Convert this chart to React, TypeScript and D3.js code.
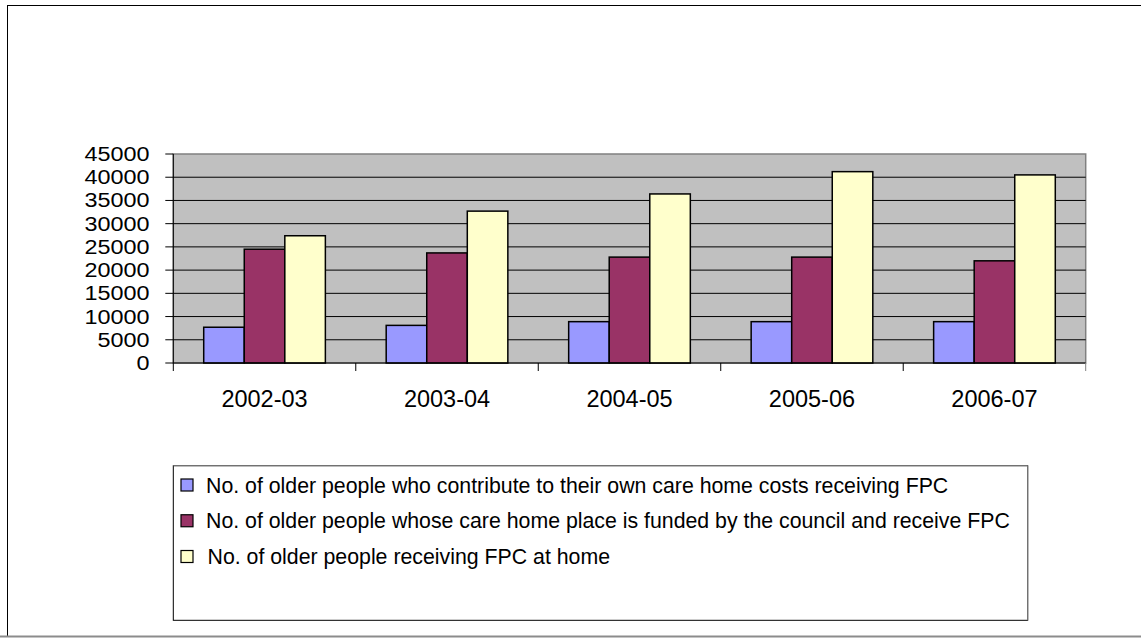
import React from "react";
import * as d3 from "d3";

const categories = ["2002-03", "2003-04", "2004-05", "2005-06", "2006-07"];
const seriesNames = [
  "No. of older people who contribute to their own care home costs receiving FPC",
  "No. of older people whose care home place is funded by the council and receive FPC",
  "No. of older people receiving FPC at home",
];
const selfFunded = [7700, 8100, 8900, 8900, 8900];
const councilFunded = [24500, 23700, 22800, 22800, 22000];
const atHome = [27400, 32700, 36400, 41200, 40500];
const yTicks = [0, 5000, 10000, 15000, 20000, 25000, 30000, 35000, 40000, 45000];
const colors = ["#9999FF", "#993366", "#FFFFCC"];

const W = 1141;
const H = 639;
const FONT = "'Liberation Sans', Arial, sans-serif";

export default function App() {
  const series = [selfFunded, councilFunded, atHome];
  const plot = { left: 173.3, right: 1085.7, top: 154, bottom: 363 };
  const x0 = d3
    .scaleBand<string>()
    .domain(categories)
    .range([plot.left, plot.right])
    .paddingInner(0)
    .paddingOuter(0);
  // Excel gap width 150%: 3 bars + 1.5 bar gap per category
  const barW = x0.bandwidth() / 4.5;
  const x1 = d3
    .scaleBand<number>()
    .domain([0, 1, 2])
    .range([0, barW * 3]);
  const y = d3.scaleLinear().domain([0, 45000]).range([plot.bottom, plot.top]);

  const legend = { left: 173.3, top: 465.7, right: 1027.7, bottom: 620.3 };
  const legendRowY = d3.scalePoint<number>().domain([0, 1, 2]).range([485, 556.5]);

  return (
    <svg
      width={W}
      height={H}
      style={{ position: "absolute", left: 0, top: 0, background: "#fff" }}
      fontFamily={FONT}
    >
      {/* outer frame */}
      <line x1={7} y1={5.5} x2={W} y2={5.5} stroke="#000" strokeWidth={1} />
      <line x1={7.5} y1={5} x2={7.5} y2={636} stroke="#000" strokeWidth={1} />
      <line x1={0} y1={636.5} x2={W} y2={636.5} stroke="#8c8c8c" strokeWidth={2} />

      {/* plot background */}
      <rect
        x={plot.left}
        y={plot.top}
        width={plot.right - plot.left}
        height={plot.bottom - plot.top}
        fill="#C0C0C0"
        stroke="#808080"
        strokeWidth={1.5}
      />
      {/* gridlines */}
      {yTicks
        .filter((t) => t > 0 && t < 45000)
        .map((t) => (
          <line
            key={"g" + t}
            x1={plot.left}
            x2={plot.right}
            y1={y(t)}
            y2={y(t)}
            stroke="#000"
            strokeWidth={1}
          />
        ))}

      {/* bars */}
      {categories.map((c, i) => {
        const start = (x0(c) as number) + (x0.bandwidth() - barW * 3) / 2;
        return (
          <g key={c}>
            {series.map((s, k) => (
              <rect
                key={k}
                x={start + (x1(k) as number)}
                y={y(s[i])}
                width={barW}
                height={y(0) - y(s[i])}
                fill={colors[k]}
                stroke="#000"
                strokeWidth={1.5}
              />
            ))}
          </g>
        );
      })}

      {/* axes */}
      <line x1={plot.left} x2={plot.left} y1={plot.top} y2={plot.bottom + 8} stroke="#000" strokeWidth={1} />
      <line x1={plot.left} x2={plot.right} y1={plot.bottom} y2={plot.bottom} stroke="#000" strokeWidth={1} />
      {yTicks.map((t) => (
        <g key={"yt" + t}>
          <line x1={plot.left - 8} x2={plot.left} y1={y(t)} y2={y(t)} stroke="#000" strokeWidth={1} />
          <text
            transform={`translate(149.5,${y(t)}) scale(1.2,1)`}
            dy="0.36em"
            textAnchor="end"
            fontSize={19.5}
            fill="#000"
          >
            {t}
          </text>
        </g>
      ))}
      {categories.map((c, i) => (
        <line
          key={"xt" + c}
          x1={(x0(c) as number) + x0.bandwidth()}
          x2={(x0(c) as number) + x0.bandwidth()}
          y1={plot.bottom}
          y2={plot.bottom + 8}
          stroke={i === categories.length - 1 ? "#808080" : "#000"}
          strokeWidth={1}
        />
      ))}
      {categories.map((c) => (
        <text
          key={"xl" + c}
          x={(x0(c) as number) + x0.bandwidth() / 2}
          y={407}
          textAnchor="middle"
          fontSize={23.5}
          fill="#000"
        >
          {c}
        </text>
      ))}

      {/* legend */}
      <rect
        x={legend.left}
        y={legend.top}
        width={legend.right - legend.left}
        height={legend.bottom - legend.top}
        fill="#fff"
        stroke="#000"
        strokeWidth={1}
      />
      <line x1={legend.left} x2={legend.right} y1={legend.top} y2={legend.top} stroke="#808080" strokeWidth={1} />
      <line x1={legend.right} x2={legend.right} y1={legend.top} y2={legend.bottom} stroke="#808080" strokeWidth={1} />
      {seriesNames.map((name, k) => {
        const cy = legendRowY(k) as number;
        return (
          <g key={"lg" + k}>
            <rect x={181} y={cy - 6} width={12} height={12} fill={colors[k]} stroke="#000" strokeWidth={1.2} />
            <text x={k === 2 ? 207.5 : 206} y={cy} dy="0.36em" fontSize={21.3} fill="#000">
              {name}
            </text>
          </g>
        );
      })}
    </svg>
  );
}
